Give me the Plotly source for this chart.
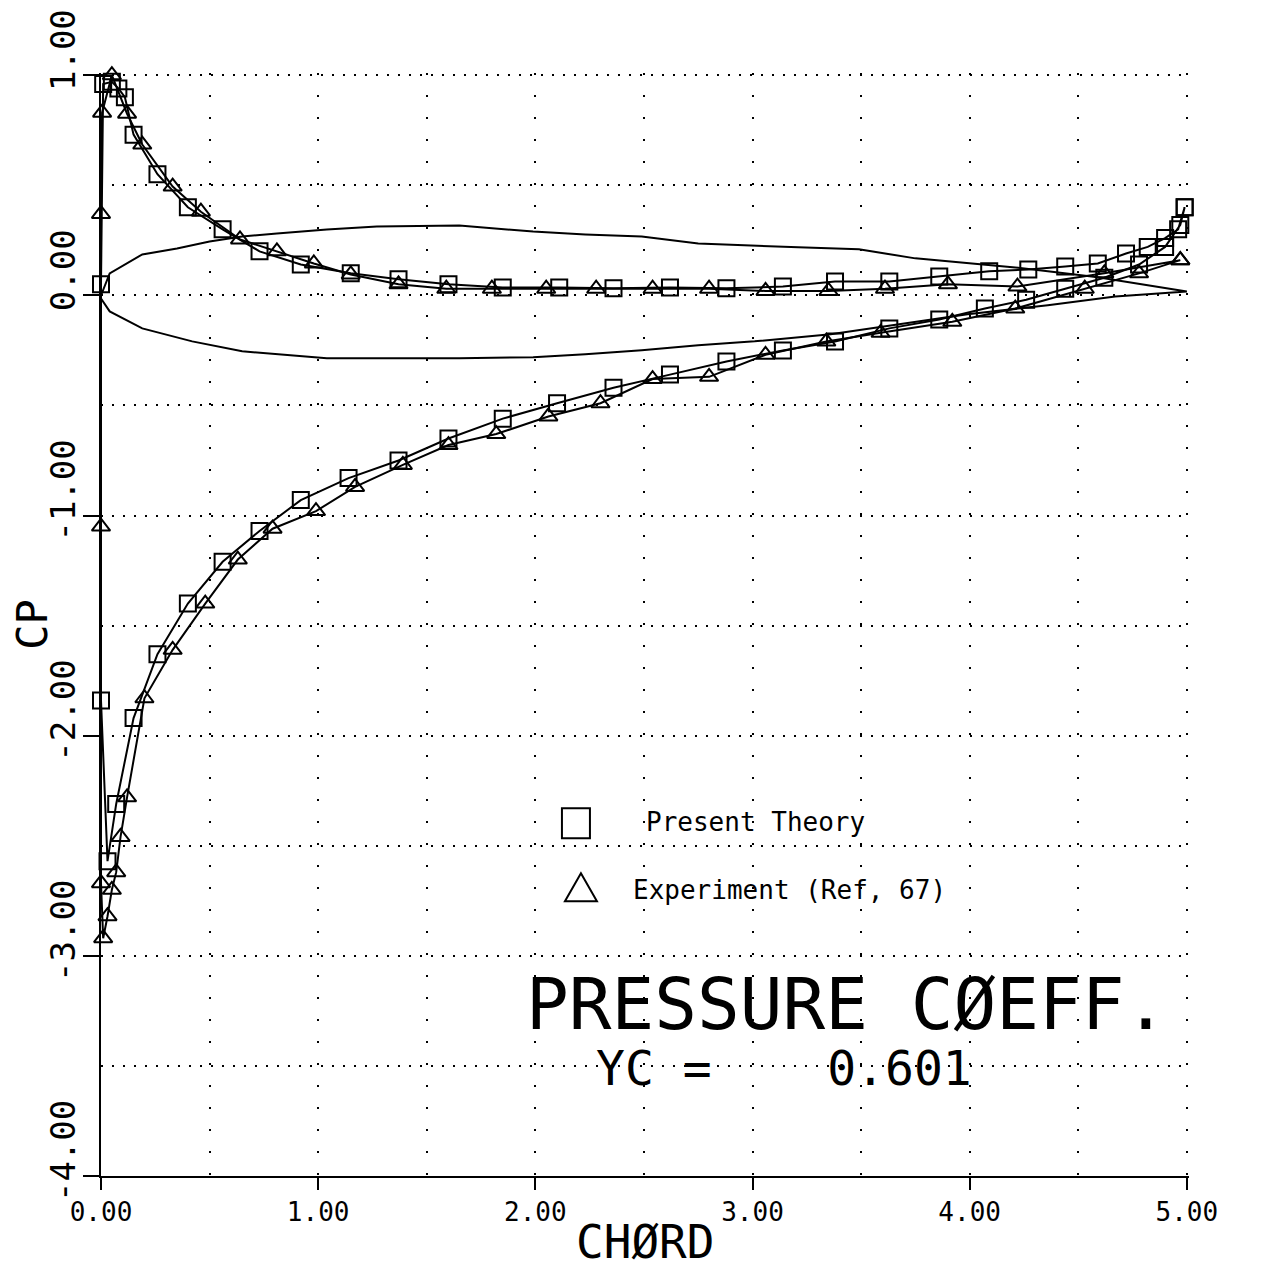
import plotly.graph_objects as go

# ---------------- data ----------------
# Airfoil outline, drawn in the CP/chord frame
foil_upper_x = [0.0, 0.04, 0.19, 0.35, 0.50, 0.65, 0.81, 1.04, 1.27, 1.65, 1.99, 2.23,
                2.49, 2.75, 3.21, 3.49, 3.75, 3.99, 4.21, 4.36, 4.59, 5.0]
foil_upper_y = [0.0, 0.10, 0.186, 0.213, 0.245, 0.267, 0.281, 0.299, 0.313, 0.317, 0.29, 0.277,
                0.267, 0.236, 0.218, 0.209, 0.168, 0.145, 0.127, 0.109, 0.082, 0.018]
foil_lower_x = [0.0, 0.04, 0.19, 0.42, 0.65, 1.04, 1.65, 1.99, 2.23, 2.49, 2.75, 3.01,
                3.36, 3.99, 4.36, 4.67, 5.0]
foil_lower_y = [-0.014, -0.073, -0.150, -0.209, -0.254, -0.286, -0.286, -0.281, -0.267, -0.249,
                -0.227, -0.209, -0.177, -0.086, -0.045, -0.005, 0.018]

# Present theory (squares): upper TE -> LE -> lower TE
theory_x = [4.99, 4.96, 4.90, 4.82, 4.72, 4.59, 4.44, 4.27, 4.09, 3.86, 3.63, 3.38, 3.14,
            2.88, 2.62, 2.36, 2.11, 1.85, 1.60, 1.37, 1.15, 0.92, 0.73, 0.56, 0.40, 0.26,
            0.15, 0.11, 0.08, 0.05, 0.01, 0.0, 0.0, 0.03, 0.07, 0.15, 0.26, 0.40, 0.56,
            0.73, 0.92, 1.14, 1.37, 1.60, 1.85, 2.10, 2.36, 2.62, 2.88, 3.14, 3.38, 3.63,
            3.86, 4.07, 4.26, 4.44, 4.62, 4.78, 4.90, 4.97, 4.99]
theory_cp = [0.40, 0.30, 0.26, 0.22, 0.19, 0.145, 0.131, 0.118, 0.109, 0.086, 0.063, 0.063,
             0.04, 0.032, 0.036, 0.032, 0.036, 0.036, 0.05, 0.073, 0.10, 0.14, 0.20, 0.30,
             0.40, 0.55, 0.73, 0.90, 0.94, 0.97, 0.96, 0.05, -1.84, -2.57, -2.31, -1.92,
             -1.63, -1.40, -1.21, -1.07, -0.93, -0.83, -0.75, -0.65, -0.56, -0.49, -0.42,
             -0.36, -0.30, -0.25, -0.21, -0.15, -0.11, -0.06, -0.02, 0.03, 0.08, 0.14,
             0.22, 0.32, 0.40]

# Experiment, Ref. 67 (triangles): upper TE -> LE -> lower TE
exp_x = [4.97, 4.62, 4.22, 3.90, 3.61, 3.35, 3.06, 2.80, 2.54, 2.28, 2.05, 1.80, 1.59,
         1.37, 1.15, 0.98, 0.81, 0.64, 0.46, 0.33, 0.19, 0.12, 0.05, 0.005, 0.0, 0.0,
         0.0, 0.01, 0.03, 0.05, 0.07, 0.09, 0.12, 0.20, 0.33, 0.48, 0.63, 0.79, 0.99,
         1.17, 1.39, 1.60, 1.82, 2.06, 2.30, 2.54, 2.80, 3.06, 3.34, 3.59, 3.92, 4.21,
         4.53, 4.78, 4.97]
exp_cp = [0.16, 0.10, 0.04, 0.05, 0.03, 0.02, 0.02, 0.03, 0.03, 0.03, 0.03, 0.03, 0.03,
          0.05, 0.095, 0.145, 0.20, 0.254, 0.38, 0.494, 0.685, 0.825, 1.0, 0.83, 0.37,
          -1.05, -2.67, -2.92, -2.82, -2.70, -2.62, -2.46, -2.28, -1.83, -1.61, -1.40,
          -1.20, -1.06, -0.98, -0.87, -0.77, -0.68, -0.63, -0.55, -0.49, -0.38, -0.37,
          -0.27, -0.21, -0.17, -0.12, -0.06, 0.03, 0.10, 0.16]

x_ticks = [0, 1, 2, 3, 4, 5]
x_ticktext = ["0.00", "1.00", "2.00", "3.00", "4.00", "5.00"]
y_ticks = [-4, -3, -2, -1, 0, 1]
y_ticktext = ["-4.00", "-3.00", "-2.00", "-1.00", "0.00", "1.00"]

FONT = "DejaVu Sans Mono"
BLACK = "#000000"

fig = go.Figure()

# airfoil outline (closed)
fig.add_trace(go.Scatter(
    x=foil_upper_x + foil_lower_x[::-1],
    y=foil_upper_y + foil_lower_y[::-1],
    mode="lines", line=dict(color=BLACK, width=2), showlegend=False, hoverinfo="skip"))

fig.add_trace(go.Scatter(
    x=theory_x, y=theory_cp, mode="lines+markers", name="Present Theory",
    line=dict(color=BLACK, width=2),
    marker=dict(symbol="square-open", size=16, color=BLACK, line=dict(width=2, color=BLACK)),
    showlegend=False, cliponaxis=False))

fig.add_trace(go.Scatter(
    x=exp_x, y=exp_cp, mode="lines+markers", name="Experiment (Ref, 67)",
    line=dict(color=BLACK, width=2),
    marker=dict(symbol="triangle-up-open", size=16, color=BLACK, line=dict(width=2, color=BLACK)),
    showlegend=False, cliponaxis=False))

axis_common = dict(
    showline=True, linecolor=BLACK, linewidth=2,
    ticks="outside", tickcolor=BLACK, tickwidth=2,
    showgrid=True, gridcolor=BLACK, gridwidth=2,
    zeroline=False, automargin=False, ticklabeloverflow="allow",
    tickfont=dict(family=FONT, size=26, color=BLACK),
)

# page body adds an 8px offset, so the figure is 8px smaller on each leading edge
fig.update_layout(
    width=1255, height=1260,
    margin=dict(l=93, r=74, t=65, b=92),
    paper_bgcolor="white", plot_bgcolor="white",
    font=dict(family=FONT, color=BLACK),
    xaxis=dict(
        axis_common, range=[0, 5.01], tickvals=x_ticks, ticktext=x_ticktext, ticklen=12,
        griddash="2px,20px",
        minor=dict(dtick=0.5, tick0=0, showgrid=True, gridcolor=BLACK, gridwidth=2,
                   griddash="2px,20px", ticks=""),
    ),
    yaxis=dict(
        axis_common, range=[-4, 1.01], tickvals=y_ticks, ticktext=y_ticktext, ticklen=16,
        tickangle=-90, tickfont=dict(family=FONT, size=34, color=BLACK),
        ticklabelshift=-20, ticklabelstandoff=-6,
        griddash="2px,9px",
        minor=dict(dtick=0.5, tick0=0, showgrid=True, gridcolor=BLACK, gridwidth=2,
                   griddash="2px,9px", ticks=""),
        title=dict(text="CP", font=dict(family=FONT, size=42, color=BLACK), standoff=2),
    ),
)

# x-axis title
fig.add_annotation(x=0.5, y=-0.06, xref="paper", yref="paper", text="CHØRD",
                   showarrow=False, xanchor="center", yanchor="middle",
                   font=dict(family=FONT, size=46, color=BLACK))

# legend drawn inside the plot
fig.add_shape(type="rect", xref="x", yref="y", xsizemode="pixel", ysizemode="pixel",
              xanchor=2.187, yanchor=-2.398, x0=-14, x1=14, y0=-15, y1=15,
              line=dict(color=BLACK, width=2))
fig.add_shape(type="path", xref="x", yref="y", xsizemode="pixel", ysizemode="pixel",
              xanchor=2.21, yanchor=-2.693, path="M -16 -13 L 16 -13 L 0 15 Z",
              line=dict(color=BLACK, width=2))
fig.add_annotation(x=2.50, y=-2.393, xref="x", yref="y", text="Present Theory",
                   showarrow=False, xanchor="left", yanchor="middle",
                   font=dict(family=FONT, size=26, color=BLACK))
fig.add_annotation(x=2.44, y=-2.70, xref="x", yref="y", text="Experiment (Ref, 67)",
                   showarrow=False, xanchor="left", yanchor="middle",
                   font=dict(family=FONT, size=26, color=BLACK))

# title block
fig.add_annotation(x=1.95, y=-3.22, xref="x", yref="y", text="PRESSURE CØEFF.",
                   showarrow=False, xanchor="left", yanchor="middle",
                   font=dict(family=FONT, size=71, color=BLACK))
fig.add_annotation(x=2.27, y=-3.51, xref="x", yref="y", text="YC =    0.601",
                   showarrow=False, xanchor="left", yanchor="middle",
                   font=dict(family=FONT, size=48, color=BLACK))

fig.write_html("out.html")
